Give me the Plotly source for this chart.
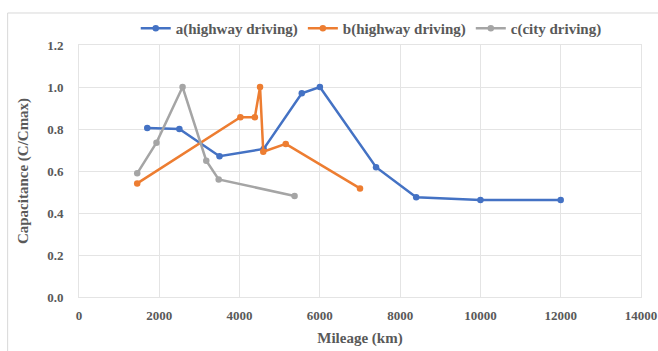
import plotly.graph_objects as go

a_x = [1700, 2500, 3500, 4600, 5550, 6000, 7400, 8400, 10000, 12000]
a_y = [0.805, 0.800, 0.670, 0.705, 0.970, 1.000, 0.618, 0.475, 0.462, 0.462]
b_x = [1450, 4020, 4380, 4510, 4590, 5150, 7000]
b_y = [0.541, 0.856, 0.856, 1.000, 0.692, 0.729, 0.517]
c_x = [1450, 1930, 2580, 3170, 3480, 5370]
c_y = [0.589, 0.735, 1.000, 0.649, 0.560, 0.481]

names = ["a(highway driving)", "b(highway driving)", "c(city driving)"]
colors = ["#4472C4", "#ED7D31", "#A5A5A5"]

fig = go.Figure()
for xs, ys, n, c in zip([a_x, b_x, c_x], [a_y, b_y, c_y], names, colors):
    fig.add_trace(go.Scatter(x=xs, y=ys, name=n, mode="lines+markers",
                             line=dict(color=c, width=2.5),
                             marker=dict(color=c, size=6.5)))

font_family = "Liberation Serif"
fig.update_layout(
    width=658, height=351,
    margin=dict(l=79, r=17, t=45, b=54),
    paper_bgcolor="white", plot_bgcolor="white",
    font=dict(family=font_family, color="#595959"),
    legend=dict(orientation="h", x=0.52, xanchor="center", y=1.0, yanchor="bottom",
                font=dict(family=font_family, size=15, color="#595959", weight="bold"),
                itemwidth=30, tracegroupgap=0, bgcolor="rgba(0,0,0,0)"),
    showlegend=True,
)
fig.update_xaxes(range=[0, 14000], dtick=2000, tickformat="d", showgrid=True, gridcolor="#E4E4E4",
                 zeroline=False, showline=True, linecolor="#E4E4E4", mirror=True,
                 automargin=False,
                 tickfont=dict(family=font_family, size=13, color="#595959", weight="bold"),
                 ticks="", ticklabelstandoff=6,
                 title=dict(text="Mileage (km)", standoff=10,
                            font=dict(family=font_family, size=15, color="#595959", weight="bold")))
fig.update_yaxes(range=[0, 1.2], dtick=0.2, tickformat=".1f", showgrid=True, gridcolor="#E4E4E4",
                 zeroline=False, showline=True, linecolor="#E4E4E4", mirror=True,
                 automargin=False,
                 tickfont=dict(family=font_family, size=13, color="#595959", weight="bold"),
                 ticks="", ticklabelstandoff=12,
                 title=dict(text="Capacitance (C/Cmax)", standoff=14,
                            font=dict(family=font_family, size=15, color="#595959", weight="bold")))

# outer chart-area border
fig.add_shape(type="rect", xref="paper", yref="paper",
              x0=-0.127, x1=1.2, y0=-0.5, y1=1.127,
              line=dict(color="#D9D9D9", width=1), layer="below")

fig.write_html("out.html")
